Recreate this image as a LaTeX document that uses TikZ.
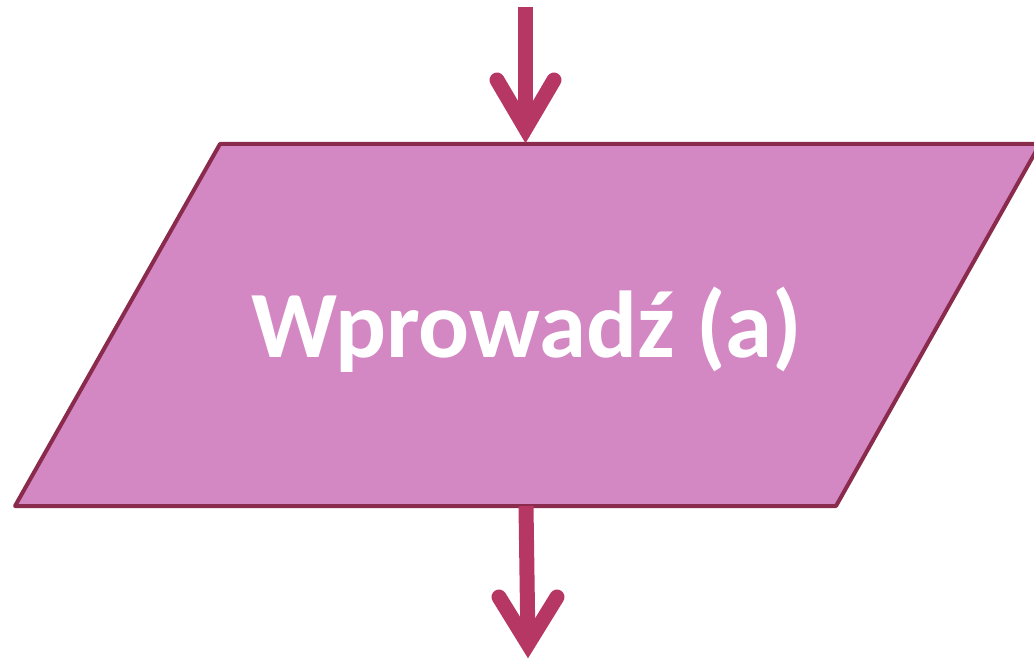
\documentclass[tikz,border=0pt]{standalone}
\usepackage{fontspec}
\setmainfont{Carlito}
\definecolor{fillc}{HTML}{D388C3}
\definecolor{edgec}{HTML}{8A2A4C}
\definecolor{arrowc}{HTML}{B73764}
\begin{document}
\begin{tikzpicture}[x=1pt,y=-1pt,
  io/.style={fill=fillc,draw=edgec,line width=4pt,line join=round},
  shaft/.style={draw=arrowc,line width=15pt},
  wing/.style={draw=arrowc,line width=15pt,line cap=round,line join=miter},
  label/.style={text=white,font=\bfseries\fontsize{95}{110}\selectfont,inner sep=0pt,anchor=base}]
\useasboundingbox (0,0) rectangle (1034,660);
% parallelogram
\coordinate (tl) at (220,144);
\coordinate (tr) at (1040,144);
\coordinate (br) at (836,506);
\coordinate (bl) at (15,506);
\draw[io] (tl) -- (tr) -- (br) -- (bl) -- cycle;
\node[label] (txt) at (527,358) {Wprowadź (a)};
% top arrow
\coordinate (inStart) at (525.5,7);
\coordinate (inEnd) at (525.5,130);
\coordinate (inL) at (497,80);
\coordinate (inR) at (554,80);
\coordinate (inJ) at (525.5,128.5);
\draw[shaft] (inStart) -- (inEnd);
\draw[wing] (inL) -- (inJ) -- (inR);
% bottom arrow
\coordinate (outStart) at (526,506);
\coordinate (outEnd) at (528,645);
\coordinate (outL) at (499,597);
\coordinate (outR) at (557,597);
\coordinate (outJ) at (528,644);
\draw[shaft] (outStart) -- (outEnd);
\draw[wing] (outL) -- (outJ) -- (outR);
\end{tikzpicture}
\end{document}
